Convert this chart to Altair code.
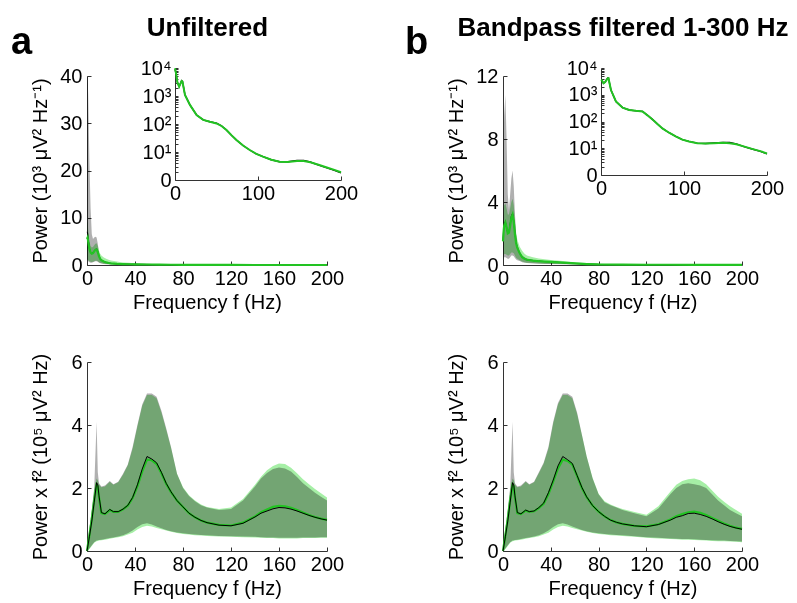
import altair as alt
import pandas as pd

W, H = 781, 595
FONT = "Liberation Sans"

# ---------------- data: top panels (power, 10^3 uV^2/Hz) ----------------
freq_t = [0, 0.5, 1, 2, 3, 4, 5, 6, 7, 8, 9, 10, 11, 12, 14, 16, 18, 20, 25, 30,
          35, 40, 50, 60, 70, 80, 100, 120, 140, 160, 180, 200]

tl_black = [7.0, 6.8, 5.5, 3.5, 2.6, 2.4, 2.6, 3.0, 3.3, 3.4, 2.8, 1.9, 1.3, 1.0, 0.75, 0.55,
            0.42, 0.34, 0.25, 0.2, 0.16, 0.14, 0.12, 0.08, 0.05, 0.03, 0.012, 0.006, 0.005,
            0.005, 0.004, 0.002]
tl_green = [5.5, 5.8, 5.0, 3.4, 2.6, 2.4, 2.5, 2.9, 3.2, 3.3, 2.7, 1.85, 1.3, 1.0, 0.75, 0.55,
            0.42, 0.34, 0.25, 0.2, 0.16, 0.14, 0.11, 0.075, 0.05, 0.03, 0.012, 0.006, 0.005,
            0.005, 0.004, 0.002]
tl_gray_hi = [42, 40, 36, 22, 12, 6.5, 5.5, 5.8, 6.0, 5.8, 4.5, 2.6, 1.6, 1.2, 0.8, 0.6, 0.45,
              0.4, 0.3, 0.22, 0.18, 0.16, 0.13, 0.1, 0.07, 0.04, 0.016, 0.008, 0.007, 0.007,
              0.005, 0.003]
tl_gray_lo = [1.0, 1.0, 0.8, 0.6, 0.5, 0.5, 0.6, 0.7, 0.8, 0.8, 0.7, 0.5, 0.35, 0.3, 0.22, 0.18,
              0.14, 0.12, 0.09, 0.07, 0.05, 0.05, 0.04, 0.03, 0.02, 0.01, 0.004, 0.002, 0.002,
              0.002, 0.002, 0.001]
tl_green_hi = [9, 9, 7.5, 5.0, 4.0, 3.7, 3.8, 4.2, 4.5, 4.6, 4.0, 3.0, 2.4, 2.0, 1.6, 1.3, 1.1,
               0.95, 0.75, 0.55, 0.45, 0.36, 0.27, 0.18, 0.12, 0.07, 0.03, 0.014, 0.011, 0.011,
               0.009, 0.006]
tl_green_lo = [1.2, 1.2, 1.0, 0.8, 0.7, 0.65, 0.7, 0.8, 0.9, 0.9, 0.8, 0.6, 0.45, 0.38, 0.28,
               0.22, 0.18, 0.15, 0.11, 0.08, 0.06, 0.06, 0.05, 0.035, 0.022, 0.012, 0.005,
               0.002, 0.002, 0.002, 0.002, 0.001]

tr_black = [1.6, 2.2, 2.6, 2.75, 2.4, 2.0, 2.1, 2.6, 3.1, 3.28, 2.8, 2.0, 1.4, 1.1, 0.75, 0.5,
            0.4, 0.33, 0.28, 0.24, 0.22, 0.2, 0.15, 0.1, 0.06, 0.035, 0.02, 0.015, 0.015,
            0.013, 0.01, 0.006]
tr_green = [1.5, 2.1, 2.5, 2.7, 2.4, 2.0, 2.05, 2.5, 3.0, 3.2, 2.75, 1.95, 1.38, 1.08, 0.74,
            0.5, 0.4, 0.33, 0.28, 0.24, 0.22, 0.2, 0.15, 0.1, 0.06, 0.035, 0.02, 0.015, 0.015,
            0.013, 0.01, 0.006]
tr_gray_hi = [4.0, 8.0, 9.5, 10.8, 8.0, 4.5, 3.5, 4.5, 5.5, 6.0, 5.0, 3.2, 2.0, 1.3, 0.85, 0.6,
              0.5, 0.42, 0.34, 0.28, 0.24, 0.22, 0.17, 0.11, 0.07, 0.045, 0.028, 0.02, 0.02,
              0.018, 0.014, 0.008]
tr_gray_lo = [0.3, 0.4, 0.5, 0.5, 0.45, 0.4, 0.4, 0.5, 0.6, 0.6, 0.55, 0.45, 0.35, 0.3, 0.25,
              0.18, 0.15, 0.12, 0.1, 0.08, 0.07, 0.06, 0.05, 0.03, 0.02, 0.01, 0.006, 0.004,
              0.004, 0.004, 0.003, 0.002]
tr_green_hi = [3.0, 3.6, 3.8, 3.9, 3.6, 3.2, 3.2, 3.6, 4.0, 4.2, 3.8, 2.8, 2.0, 1.6, 1.16, 0.9,
               0.72, 0.6, 0.5, 0.42, 0.36, 0.32, 0.26, 0.18, 0.12, 0.07, 0.04, 0.03, 0.03,
               0.025, 0.02, 0.012]
tr_green_lo = [0.5, 0.6, 0.7, 0.7, 0.65, 0.6, 0.6, 0.7, 0.8, 0.8, 0.75, 0.6, 0.45, 0.4, 0.3,
               0.22, 0.18, 0.15, 0.12, 0.1, 0.08, 0.07, 0.06, 0.04, 0.025, 0.015, 0.008,
               0.005, 0.005, 0.005, 0.004, 0.003]

# ---------------- data: insets (power, uV^2/Hz, log) ----------------
freq_i = [0, 1, 3, 5, 8, 9, 12, 18, 26, 34, 42, 50, 56, 62, 68, 74, 82, 90, 98, 106, 116,
          126, 136, 147, 155, 163, 173, 183, 192, 200]
il_green = [9800, 7000, 3000, 2150, 3450, 3300, 1100, 480, 210, 140, 120, 105, 85, 61, 40, 27,
            17, 11.8, 8.5, 6.8, 5.3, 4.5, 4.4, 4.8, 4.8, 4.3, 3.5, 2.8, 2.3, 1.9]
il_black = [9000, 6800, 3000, 2200, 3500, 3300, 1100, 480, 210, 140, 120, 108, 86, 61, 40, 27,
            17, 11.8, 8.5, 6.8, 5.3, 4.5, 4.5, 5.0, 5.0, 4.4, 3.4, 2.7, 2.2, 1.8]
ir_green = [3600, 3500, 2700, 3000, 4100, 4150, 1500, 560, 330, 270, 250, 235, 170, 120, 80,
            55, 38, 28, 21, 18, 15.5, 15, 15.5, 16, 15.5, 14, 11.5, 9.3, 7.8, 6.4]
ir_black = [3500, 3400, 2700, 3000, 4200, 4150, 1500, 560, 330, 270, 250, 240, 172, 120, 80,
            55, 38, 28, 21, 18, 15.5, 15, 15.8, 16.5, 16.5, 14.5, 11.3, 9.2, 7.6, 6.2]

# ---------------- data: bottom panels (power x f^2, 10^5 uV^2 Hz) ----------------
freq_b = [0, 2, 4, 6, 8, 9, 10, 12, 15, 19, 22, 26, 30, 34, 38, 42, 46, 50, 54, 58, 62, 66,
          70, 75, 80, 85, 90, 95, 100, 110, 120, 130, 140, 145, 150, 155, 160, 165, 170, 175,
          180, 185, 190, 195, 200]

bl_black = [0, 0.45, 0.95, 1.55, 2.17, 2.1, 1.75, 1.22, 1.18, 1.32, 1.25, 1.25, 1.33, 1.45, 1.7,
            2.1, 2.6, 3.0, 2.92, 2.8, 2.5, 2.15, 1.88, 1.6, 1.4, 1.2, 1.07, 0.97, 0.9, 0.82,
            0.8, 0.88, 1.08, 1.2, 1.27, 1.34, 1.38, 1.37, 1.33, 1.27, 1.2, 1.13, 1.07, 1.02,
            0.98]
bl_green = [0, 0.5, 1.0, 1.6, 2.1, 2.05, 1.7, 1.2, 1.17, 1.3, 1.24, 1.24, 1.32, 1.44, 1.68,
            2.05, 2.52, 2.9, 2.88, 2.76, 2.47, 2.13, 1.87, 1.6, 1.4, 1.2, 1.07, 0.97, 0.9, 0.83,
            0.81, 0.9, 1.1, 1.23, 1.32, 1.4, 1.43, 1.42, 1.37, 1.3, 1.22, 1.14, 1.08, 1.03,
            0.99]
bl_gray_hi = [0, 0.7, 1.3, 2.0, 4.1, 2.5, 2.15, 2.05, 2.08, 2.22, 2.12, 2.2, 2.45, 2.75, 3.3,
              4.0, 4.65, 5.0, 5.0, 4.9, 4.45, 3.9, 3.3, 2.45, 2.0, 1.75, 1.58, 1.45, 1.38, 1.3,
              1.33, 1.6, 2.05, 2.3, 2.48, 2.6, 2.65, 2.62, 2.52, 2.35, 2.15, 2.0, 1.85, 1.72,
              1.6]
bl_green_hi = [0, 0.72, 1.32, 1.95, 2.3, 2.25, 2.1, 2.02, 2.05, 2.2, 2.1, 2.18, 2.42, 2.72,
               3.25, 3.95, 4.6, 4.95, 4.95, 4.85, 4.4, 3.85, 3.28, 2.45, 2.02, 1.77, 1.6, 1.48,
               1.4, 1.33, 1.38, 1.65, 2.1, 2.36, 2.56, 2.7, 2.78, 2.76, 2.64, 2.47, 2.28, 2.12,
               1.97, 1.83, 1.7]
bl_gray_lo = [0, 0.08, 0.18, 0.28, 0.33, 0.34, 0.35, 0.36, 0.38, 0.41, 0.43, 0.46, 0.5, 0.56,
              0.65, 0.76, 0.85, 0.88, 0.84, 0.78, 0.72, 0.67, 0.63, 0.59, 0.56, 0.54, 0.52,
              0.51, 0.5, 0.48, 0.47, 0.46, 0.45, 0.44, 0.43, 0.43, 0.42, 0.42, 0.42, 0.42,
              0.43, 0.43, 0.43, 0.44, 0.44]
bl_green_lo = [0, 0.06, 0.16, 0.26, 0.31, 0.32, 0.33, 0.34, 0.36, 0.39, 0.41, 0.44, 0.47,
               0.52, 0.58, 0.68, 0.76, 0.8, 0.78, 0.73, 0.69, 0.65, 0.61, 0.57, 0.54, 0.52,
               0.5, 0.49, 0.48, 0.46, 0.45, 0.44, 0.43, 0.42, 0.41, 0.41, 0.4, 0.4, 0.4, 0.4,
               0.41, 0.41, 0.41, 0.42, 0.42]

br_black = [0, 0.45, 0.95, 1.55, 2.17, 2.1, 1.75, 1.22, 1.18, 1.3, 1.25, 1.27, 1.38, 1.52, 1.85,
            2.25, 2.7, 3.0, 2.9, 2.78, 2.4, 2.02, 1.72, 1.44, 1.25, 1.1, 0.98, 0.91, 0.86, 0.8,
            0.77, 0.84, 0.98, 1.07, 1.12, 1.19, 1.2, 1.16, 1.1, 1.02, 0.93, 0.85, 0.78, 0.73,
            0.69]
br_green = [0, 0.5, 1.0, 1.6, 2.1, 2.05, 1.7, 1.2, 1.17, 1.28, 1.24, 1.26, 1.36, 1.5, 1.8, 2.2,
            2.62, 2.9, 2.86, 2.74, 2.38, 2.0, 1.71, 1.44, 1.25, 1.1, 0.98, 0.91, 0.86, 0.8,
            0.78, 0.85, 1.0, 1.1, 1.17, 1.23, 1.25, 1.21, 1.14, 1.05, 0.96, 0.87, 0.8, 0.74,
            0.7]
br_gray_hi = [0, 0.7, 1.3, 2.0, 4.1, 2.5, 2.15, 2.05, 2.08, 2.22, 2.12, 2.2, 2.5, 2.8, 3.3,
              4.1, 4.7, 5.0, 5.0, 4.9, 4.4, 3.7, 3.0, 2.3, 1.8, 1.55, 1.45, 1.38, 1.3, 1.2,
              1.1, 1.35, 1.8, 2.0, 2.12, 2.15, 2.12, 2.08, 2.0, 1.8, 1.6, 1.45, 1.3, 1.2, 1.1]
br_green_hi = [0, 0.72, 1.32, 1.95, 2.3, 2.25, 2.1, 2.02, 2.05, 2.2, 2.1, 2.18, 2.47, 2.77,
               3.25, 4.05, 4.65, 4.95, 4.95, 4.85, 4.35, 3.68, 3.0, 2.32, 1.82, 1.58, 1.48,
               1.4, 1.33, 1.24, 1.15, 1.42, 1.88, 2.1, 2.22, 2.28, 2.3, 2.25, 2.12, 1.92, 1.72,
               1.56, 1.42, 1.3, 1.18]
br_gray_lo = [0, 0.08, 0.18, 0.28, 0.33, 0.34, 0.35, 0.36, 0.38, 0.41, 0.43, 0.46, 0.5, 0.56,
              0.65, 0.76, 0.85, 0.88, 0.84, 0.78, 0.72, 0.67, 0.63, 0.59, 0.56, 0.54, 0.52,
              0.51, 0.5, 0.47, 0.44, 0.42, 0.4, 0.39, 0.38, 0.38, 0.37, 0.36, 0.35, 0.34,
              0.33, 0.33, 0.32, 0.31, 0.3]
br_green_lo = [0, 0.06, 0.16, 0.26, 0.31, 0.32, 0.33, 0.34, 0.36, 0.39, 0.41, 0.44, 0.47,
               0.52, 0.58, 0.68, 0.76, 0.8, 0.78, 0.73, 0.69, 0.65, 0.61, 0.57, 0.54, 0.52,
               0.5, 0.49, 0.48, 0.45, 0.42, 0.4, 0.38, 0.37, 0.36, 0.36, 0.35, 0.34, 0.33,
               0.32, 0.31, 0.31, 0.3, 0.29, 0.28]

x_ticks = [0, 40, 80, 120, 160, 200]
inset_x_ticks = [0, 100, 200]
inset_y_ticks = [1, 10, 100, 1000, 10000]
inset_minor = [k * 10 ** e for e in range(4) for k in range(1, 10)] + [10000]

GRAY_FILL = "#b0b0b0"
GREEN_FILL = "#a6efa6"
GREEN_LINE = "#22c322"
AXIS_COL = "#333333"


def xs(r):
    return alt.Scale(domain=[0, 200], range=r, clamp=True, nice=False, zero=False)


def ys(d, r, typ="linear"):
    if typ == "log":
        return alt.Scale(type="log", domain=d, range=r, clamp=True, nice=False)
    return alt.Scale(domain=d, range=r, clamp=True, nice=False, zero=False)


def main_x(y0, values, title, lp=3):
    return alt.Axis(orient="bottom", offset=y0 - H, values=values, ticks=False,
                    labelPadding=lp, title=title, titlePadding=4, grid=False,
                    labelFlush=False, labelOverlap=False)


def main_y(x0, values, title, label_expr=None, lp=5):
    kw = dict(orient="left", offset=-x0, values=values, ticks=False, labelPadding=lp,
              grid=False, labelFlush=False, labelOverlap=False, minExtent=28,
              titlePadding=9)
    if label_expr:
        kw["labelExpr"] = label_expr
    kw["title"] = title if title else None
    return alt.Axis(**kw)


def in_x(y0, values):
    return alt.Axis(orient="top", offset=-y0, values=values, labels=False, domain=False,
                    ticks=True, tickSize=4, grid=False, title=None)


def in_y(x0, values, size=4):
    return alt.Axis(orient="right", offset=x0 - W, values=values, labels=False, domain=False,
                    ticks=True, tickSize=size, grid=False, title=None)


def head_x(title):
    return alt.Axis(orient="top", labels=False, ticks=False, domain=False, grid=False,
                    title=title, titleFontSize=26, titleFontWeight="bold", titleY=27,
                    titleBaseline="alphabetic")


def head_y(letter, tx):
    return alt.Axis(orient="left", labels=False, ticks=False, domain=False, grid=False,
                    title=letter, titleFontSize=38, titleFontWeight="bold", titleAngle=0,
                    titleX=tx, titleY=45, titleAlign="center", titleBaseline="alphabetic")


def panel(freq, black, green, ghi, glo, nhi, nlo, xr, yd, yr, yvals, ytitle,
          header=None, letter=None, letter_x=0, black_on_top=True):
    df = pd.DataFrame({"f": freq, "black": black, "green": green,
                       "ghi": ghi, "glo": glo, "nhi": nhi, "nlo": nlo})
    X = xs(xr)
    Y = ys(yd, yr)
    x0, y0 = xr[0], yr[0]
    base = alt.Chart(df)
    gray_band = base.mark_area(color=GRAY_FILL, blend="multiply", opacity=1).encode(
        x=alt.X("f:Q", scale=X, axis=main_x(y0, x_ticks, "Frequency f (Hz)")),
        y=alt.Y("glo:Q", scale=Y, axis=main_y(x0, yvals, ytitle)),
        y2="ghi:Q",
    )
    green_band = base.mark_area(color=GREEN_FILL, blend="multiply", opacity=1).encode(
        x=alt.X("f:Q", scale=X, axis=in_x(y0, x_ticks)),
        y=alt.Y("nlo:Q", scale=Y, axis=in_y(x0, yvals)),
        y2="nhi:Q",
    )
    if header:
        gx = head_x(header)
        gy = head_y(letter, letter_x)
    else:
        gx = None
        gy = None
    green_line = base.mark_line(color=GREEN_LINE, strokeWidth=2.2).encode(
        x=alt.X("f:Q", scale=X, axis=gx),
        y=alt.Y("green:Q", scale=Y, axis=gy),
    )
    black_line = base.mark_line(color="black", strokeWidth=1).encode(
        x=alt.X("f:Q", scale=X, axis=None),
        y=alt.Y("black:Q", scale=Y, axis=None),
    )
    if black_on_top:
        return [gray_band, green_band, green_line, black_line]
    return [gray_band, green_band, black_line, green_line]


LOG_LABELS = ("datum.value == 1 ? '0' : datum.value == 10 ? '10\u00b9' : "
              "datum.value == 100 ? '10\u00b2' : datum.value == 1000 ? '10\u00b3' : '10\u2074'")


def inset(freq, black, green, xr, yr):
    df = pd.DataFrame({"f": freq, "black": black, "green": green})
    X = xs(xr)
    Y = ys([1, 10000], yr, "log")
    x0, y0 = xr[0], yr[0]
    base = alt.Chart(df)
    bl = base.mark_line(color="black", strokeWidth=1.4).encode(
        x=alt.X("f:Q", scale=X, axis=main_x(y0, inset_x_ticks, None, lp=3)),
        y=alt.Y("black:Q", scale=Y, axis=main_y(x0, inset_y_ticks, None, LOG_LABELS, lp=4)),
    )
    gl = base.mark_line(color=GREEN_LINE, strokeWidth=2).encode(
        x=alt.X("f:Q", scale=X, axis=in_x(y0, inset_x_ticks)),
        y=alt.Y("green:Q", scale=Y, axis=in_y(x0, inset_minor, 3)),
    )
    return [bl, gl]


TITLE_TOP = "Power (10\u00b3 \u03bcV\u00b2 Hz\u207b\u00b9)"
TITLE_BOT = "Power x f\u00b2 (10\u2075 \u03bcV\u00b2 Hz)"

layers = []
layers += panel(freq_t, tl_black, tl_green, tl_gray_hi, tl_gray_lo, tl_green_hi, tl_green_lo,
                [79, 319], [0, 40], [257, 68], [0, 10, 20, 30, 40], TITLE_TOP,
                header="Unfiltered", letter="a", letter_x=13, black_on_top=False)
layers += panel(freq_t, tr_black, tr_green, tr_gray_hi, tr_gray_lo, tr_green_hi, tr_green_lo,
                [495, 734], [0, 12], [257, 68], [0, 4, 8, 12], TITLE_TOP,
                header="Bandpass filtered 1-300 Hz", letter="b", letter_x=408,
                black_on_top=False)
layers += panel(freq_b, bl_black, bl_green, bl_gray_hi, bl_gray_lo, bl_green_hi, bl_green_lo,
                [79, 319], [0, 6], [543, 354], [0, 2, 4, 6], TITLE_BOT)
layers += panel(freq_b, br_black, br_green, br_gray_hi, br_gray_lo, br_green_hi, br_green_lo,
                [495, 734], [0, 6], [543, 354], [0, 2, 4, 6], TITLE_BOT)
layers += inset(freq_i, il_black, il_green, [167, 333], [172, 60])
layers += inset(freq_i, ir_black, ir_green, [593, 759], [167, 60])

chart = alt.layer(*layers).resolve_scale(x="independent", y="independent").properties(
    width=W, height=H, autosize=alt.AutoSizeParams(type="none"), padding=0
).configure_view(stroke=None).configure_axis(
    labelFont=FONT, titleFont=FONT, labelFontSize=20, titleFontSize=20,
    titleFontWeight="normal", labelColor="black", titleColor="black",
    domainColor=AXIS_COL, tickColor=AXIS_COL, domainWidth=1, grid=False
)

chart.save("out.html", embed_options={"renderer": "svg", "actions": False})
